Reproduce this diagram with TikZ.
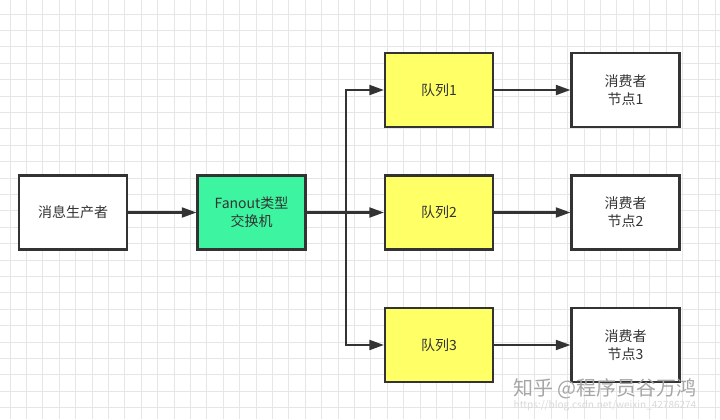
\documentclass[tikz,border=0pt]{standalone}
\usepackage{fontspec}
\setmainfont{Noto Sans CJK SC}
\usetikzlibrary{arrows.meta}
\definecolor{gridc}{HTML}{E6E6E6}
\definecolor{edgec}{HTML}{333333}
\definecolor{qyellow}{HTML}{FFFF66}
\definecolor{xgreen}{HTML}{3DF5A0}
\definecolor{txt}{HTML}{333333}
\tikzset{
  box/.style={draw=edgec, line width=1.6pt, minimum width=81pt, minimum height=55.5pt,
    inner sep=0pt, font=\fontsize{10.5}{13.5}\selectfont, text=txt, align=center},
  arr/.style={draw=edgec, line width=1.6pt, -{Triangle[length=11pt,width=7.5pt]}},
}
\begin{document}
\begin{tikzpicture}[x=0.75pt,y=-0.75pt]
\useasboundingbox (0,0) rectangle (720,419);
\fill[white] (0,0) rectangle (720,419);
\foreach \i in {0,...,44} {\draw[gridc, line width=0.6pt] (10+16.4*\i,0) -- (10+16.4*\i,419);}
\foreach \j in {0,...,25} {\draw[gridc, line width=0.6pt] (0,14+16.4*\j) -- (720,14+16.4*\j);}

\node[box, fill=white] (prod) at (73,212.5) {消息生产者};
\node[box, fill=xgreen] (ex) at (251.5,212.5) {Fanout类型\\交换机};
\node[box, fill=qyellow] (q1) at (439,90) {队列1};
\node[box, fill=qyellow] (q2) at (439,212.5) {队列2};
\node[box, fill=qyellow] (q3) at (439,345) {队列3};
\node[box, fill=white] (c1) at (625.5,90) {消费者\\节点1};
\node[box, fill=white] (c2) at (625.5,212.5) {消费者\\节点2};
\node[box, fill=white] (c3) at (625.5,345) {消费者\\节点3};
\coordinate (br) at (346,212.5);

\draw[arr] (prod) -- (ex);
\draw[arr] (ex) -- (q2);
\draw[arr] (br) |- (q1);
\draw[arr] (br) |- (q3);
\draw[arr] (q1) -- (c1);
\draw[arr] (q2) -- (c2);
\draw[arr] (q3) -- (c3);

\node[text=black!35, font=\fontsize{15}{18}\selectfont, anchor=center] (wm) at (605,389) {知乎 @程序员谷万鸿};
\node[text=black!15, font=\fontsize{7.5}{9}\selectfont, anchor=center] (url) at (605,406) {https://blog.csdn.net/weixin\_42786274};
\end{tikzpicture}
\end{document}
